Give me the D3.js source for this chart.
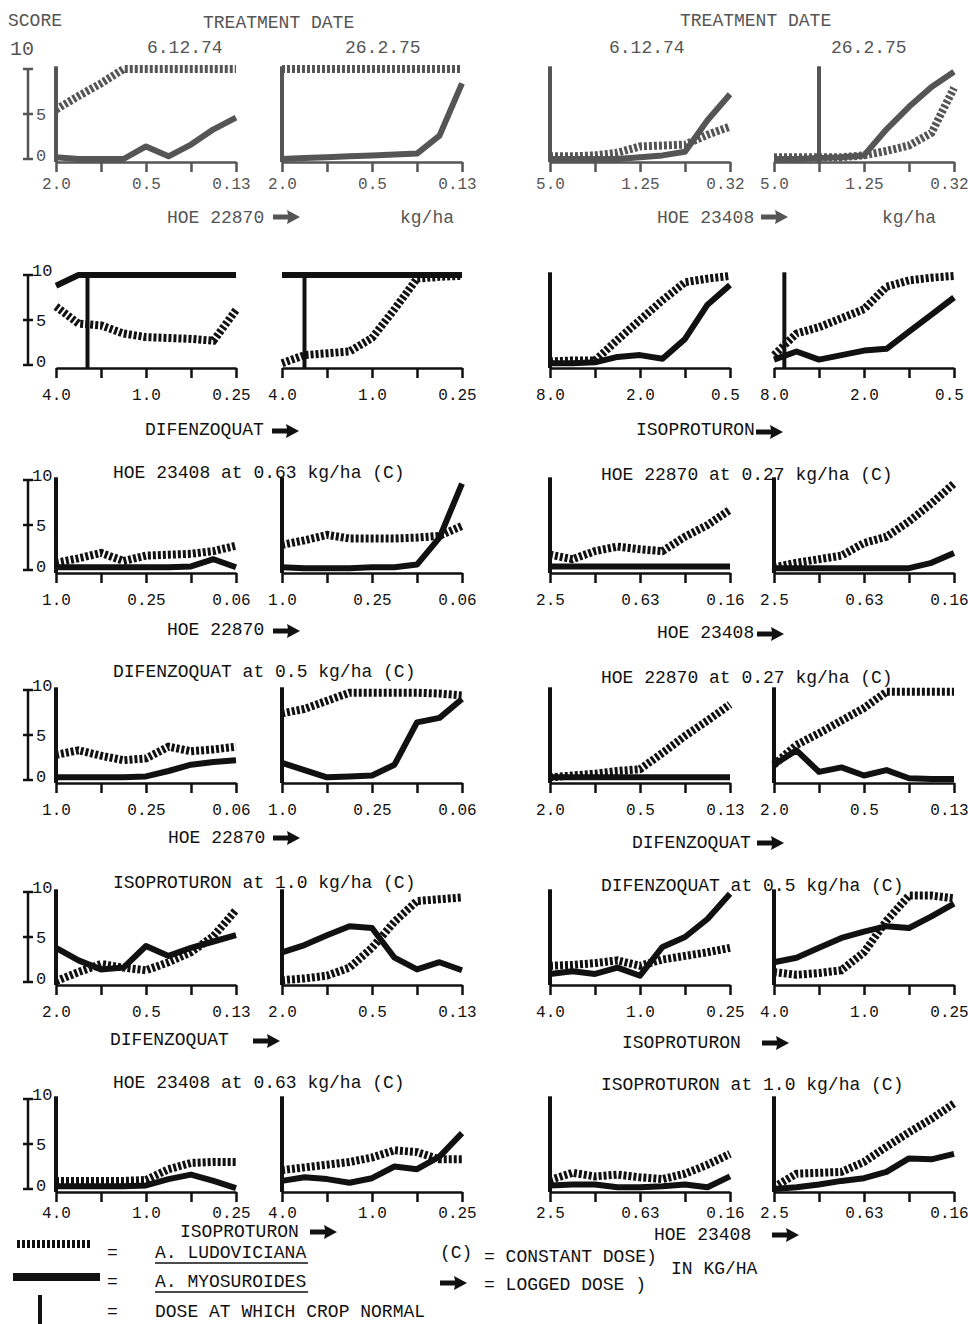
<!DOCTYPE html>
<html>
<head>
<meta charset="utf-8">
<script src="https://cdn.jsdelivr.net/npm/d3@7"></script>
<style>
body { margin: 0; background: #fff; }
text { font-family: "Liberation Mono", "DejaVu Sans Mono", monospace; }
.lud { fill: none; stroke-width: 8; stroke-dasharray: 3,2; }
.myo { fill: none; stroke-width: 6; stroke-linejoin: round; }
.axis path, .axis line { stroke-width: 2.5; }
</style>
</head>
<body>
<script>
// dose steps along every x axis (one whole step = half the dose)
var steps = [0, 0.5, 1, 1.5, 2, 2.5, 3, 3.5, 4];

// tick labels at steps 0, 2 and 4, per row and panel
var tickLabels = [
  [["2.0","0.5","0.13"], ["2.0","0.5","0.13"], ["5.0","1.25","0.32"], ["5.0","1.25","0.32"]],
  [["4.0","1.0","0.25"], ["4.0","1.0","0.25"], ["8.0","2.0","0.5"], ["8.0","2.0","0.5"]],
  [["1.0","0.25","0.06"], ["1.0","0.25","0.06"], ["2.5","0.63","0.16"], ["2.5","0.63","0.16"]],
  [["1.0","0.25","0.06"], ["1.0","0.25","0.06"], ["2.0","0.5","0.13"], ["2.0","0.5","0.13"]],
  [["2.0","0.5","0.13"], ["2.0","0.5","0.13"], ["4.0","1.0","0.25"], ["4.0","1.0","0.25"]],
  [["4.0","1.0","0.25"], ["4.0","1.0","0.25"], ["2.5","0.63","0.16"], ["2.5","0.63","0.16"]]
];

// score (0-10) of A. ludoviciana, per row and panel
var ludoviciana = [
  [[5.5,7,8.4,10,10,10,10,10,10], [10,10,10,10,10,10,10,10,10],
   [0.3,0.3,0.4,0.7,1.4,1.5,1.6,2.7,3.6], [0.2,0.2,0.2,0.2,0.4,0.9,1.5,2.9,7.9]],
  [[6.5,4.6,4.4,3.5,3.1,3.0,2.9,2.7,6.1], [0.2,1.1,1.3,1.5,3.0,6.2,9.6,9.8,9.9],
   [0.4,0.5,0.5,2.8,5.0,7.2,9.2,9.6,9.9], [1.1,3.5,4.2,5.2,6.2,8.7,9.4,9.7,9.9]],
  [[0.8,1.3,1.9,1.0,1.6,1.7,1.8,2.1,2.7], [2.8,3.3,3.9,3.5,3.5,3.5,3.6,3.8,4.9],
   [1.7,1.2,2.1,2.6,2.3,2.1,3.7,5.0,6.7], [0.3,0.8,1.2,1.6,3.0,3.7,5.4,7.4,9.6]],
  [[2.8,3.3,2.7,2.2,2.4,3.7,3.2,3.4,3.7], [7.4,7.9,8.8,9.7,9.7,9.7,9.7,9.6,9.4],
   [0.3,0.5,0.7,1.0,1.2,3.0,4.9,6.6,8.4], [1.7,3.9,5.2,6.6,8.0,9.8,9.8,9.8,9.8]],
  [[0.1,1.1,2.0,1.6,1.3,2.2,3.3,5.1,8.0], [0.2,0.4,0.7,1.6,3.8,6.7,9.0,9.2,9.4],
   [1.8,1.9,2.1,2.4,1.8,2.5,2.9,3.3,3.8], [1.1,0.8,1.0,1.3,3.3,6.8,9.6,9.6,9.3]],
  [[0.9,0.9,0.9,0.9,1.0,2.2,2.9,3.0,3.0], [2.1,2.4,2.7,3.0,3.5,4.3,4.1,3.3,3.3],
   [1.0,1.8,1.4,1.6,1.3,1.1,1.7,2.7,3.9], [0.2,1.7,1.8,1.9,3.0,4.7,6.3,7.8,9.5]]
];

// score (0-10) of A. myosuroides, per row and panel
var myosuroides = [
  [[0.2,0,0,0,1.4,0.3,1.6,3.3,4.6], [0,0.1,0.2,0.3,0.4,0.5,0.6,2.6,8.4],
   [0,0,0,0,0.2,0.4,0.8,4.3,7.2], [0,0,0.1,0.2,0.4,3.3,5.8,8.0,9.7]],
  [[8.8,10,10,10,10,10,10,10,10], [10,10,10,10,10,10,10,10,10],
   [0.2,0.2,0.3,0.9,1.1,0.7,2.9,6.7,8.9], [0.6,1.5,0.6,1.1,1.6,1.8,3.7,5.6,7.5]],
  [[0.3,0.3,0.3,0.3,0.3,0.3,0.4,1.2,0.3], [0.3,0.2,0.2,0.2,0.3,0.3,0.6,3.6,9.6],
   [0.4,0.4,0.4,0.4,0.4,0.4,0.4,0.4,0.4], [0.2,0.2,0.2,0.2,0.2,0.2,0.2,0.8,1.9]],
  [[0.3,0.3,0.3,0.3,0.4,1.0,1.7,2.0,2.2], [1.9,1.1,0.3,0.4,0.5,1.7,6.4,6.9,9.0],
   [0.3,0.3,0.3,0.3,0.3,0.3,0.3,0.3,0.3], [1.7,3.3,0.9,1.4,0.5,1.1,0.2,0.1,0.1]],
  [[3.8,2.4,1.4,1.6,4.0,2.9,3.8,4.5,5.2], [3.3,4.1,5.2,6.2,6.0,2.7,1.4,2.2,1.3],
   [0.9,1.2,0.9,1.6,0.7,3.9,5.0,7.0,9.8], [2.2,2.7,3.8,4.9,5.6,6.2,6.0,7.3,8.7]],
  [[0.3,0.3,0.3,0.3,0.4,1.1,1.6,0.9,0.1], [0.9,1.3,1.1,0.7,1.2,2.5,2.2,3.6,6.2],
   [0.4,0.5,0.5,0.2,0.2,0.3,0.5,0.2,1.4], [0.0,0.2,0.5,0.9,1.2,1.9,3.4,3.3,3.9]]
];

// dose step at which the crop was normal
var cropNormal = [
  [0, 0, 0, 1], [0.7, 0.5, 0, 0.23], [0, 0, 0, 0],
  [0, 0, 0, 0], [0, 0, 0, 0], [0, 0, 0, 0]
];

var titles = [
  [null, null],
  [null, null],
  ["HOE 23408 at 0.63 kg/ha (C)", "HOE 22870 at 0.27 kg/ha (C)"],
  ["DIFENZOQUAT at 0.5 kg/ha (C)", "HOE 22870 at 0.27 kg/ha (C)"],
  ["ISOPROTURON at 1.0 kg/ha (C)", "DIFENZOQUAT at 0.5 kg/ha (C)"],
  ["HOE 23408 at 0.63 kg/ha (C)", "ISOPROTURON at 1.0 kg/ha (C)"]
];
var doseNames = [
  ["HOE 22870", "HOE 23408"], ["DIFENZOQUAT", "ISOPROTURON"],
  ["HOE 22870", "HOE 23408"], ["HOE 22870", "DIFENZOQUAT"],
  ["DIFENZOQUAT", "ISOPROTURON"], ["ISOPROTURON", "HOE 23408"]
];

// layout
var W = 968, H = 1324;
var panelX = [56, 282, 550, 774], panelW = 180;
var axisY = [162, 368, 573, 783, 985, 1192];
var tickPad = [6, 11, 11, 11, 11, 5];
var titleY = [[0, 0], [0, 0], [478, 480], [677, 683], [888, 891], [1088, 1090]];
var nameXY = [ // text x, baseline, arrow x, arrow y for left and right halves
  [[167, 223, 273, 217], [657, 223, 761, 217]],
  [[145, 435, 272, 431], [636, 435, 756, 432]],
  [[167, 635, 273, 631], [657, 638, 757, 634]],
  [[168, 843, 273, 838], [632, 848, 757, 843]],
  [[110, 1045, 253, 1041], [622, 1048, 762, 1043]],
  [[180, 1237, 310, 1232], [654, 1240, 772, 1235]]
];

var svg = d3.select("body").append("svg")
    .attr("width", W).attr("height", H);

function arrow(g, x, y, col) {
  g.append("path")
    .attr("transform", "translate(" + x + "," + y + ")")
    .attr("d", "M0,-2.5 L15,-2.5 L14,-7 L27,0 L14,7 L15,2.5 L0,2.5 Z")
    .attr("fill", col);
}

function label(g, x, y, str, size, col) {
  return g.append("text").attr("x", x).attr("y", y)
    .attr("font-size", size).attr("fill", col).text(str);
}

axisY.forEach(function(ay, r) {
  var col = r === 0 ? "#555" : "#111";
  var g = svg.append("g");
  var y = d3.scaleLinear().domain([0, 10]).range([ay - 3, ay - 93]);

  for (var p = 0; p < 4; p++) {
    var x = d3.scaleLinear().domain([0, 4]).range([panelX[p], panelX[p] + panelW]);
    var labs = tickLabels[r][p];
    var ax = g.append("g").attr("class", "axis")
        .attr("transform", "translate(0," + ay + ")")
        .call(d3.axisBottom(x).tickValues([0, 1, 2, 3, 4]).tickSize(10)
          .tickSizeOuter(0).tickPadding(tickPad[r])
          .tickFormat(function(d) { return d % 2 === 0 ? labs[d / 2] : ""; }));
    ax.selectAll("path, line").attr("stroke", col);
    ax.selectAll("line").attr("stroke-width", 2);
    ax.selectAll("text").attr("font-size", 16).attr("fill", col)
      .attr("font-family", "Liberation Mono, DejaVu Sans Mono, monospace")
      .attr("dx", function(d) { return d === 4 ? -5 : 0; });

    var line = d3.line().x(function(d, i) { return x(steps[i]); }).y(function(d) { return y(d); });

    // dose at which crop normal
    g.append("line")
      .attr("x1", x(cropNormal[r][p])).attr("x2", x(cropNormal[r][p]))
      .attr("y1", ay).attr("y2", y(10.3))
      .attr("stroke", col).attr("stroke-width", 4);

    g.append("path").datum(myosuroides[r][p]).attr("class", "myo")
      .attr("stroke", col).attr("d", line);
    g.append("path").datum(ludoviciana[r][p]).attr("class", "lud")
      .attr("stroke", col).attr("d", line);
  }

  // score bracket on the left
  var bx = 28;
  g.append("line").attr("x1", bx).attr("x2", bx).attr("y1", y(0)).attr("y2", y(10))
    .attr("stroke", col).attr("stroke-width", 2.5);
  [0, 5, 10].forEach(function(v) {
    g.append("line").attr("x1", bx - 5).attr("x2", bx + 5)
      .attr("y1", y(v)).attr("y2", y(v)).attr("stroke", col).attr("stroke-width", 2.5);
  });
  label(g, 36, y(5) + 6, "5", 17, col);
  label(g, 36, y(0) + 2, "0", 17, col);
  if (r > 0) label(g, 32, y(10) + 1, "10", 17, col);

  // titles and dose names
  for (var h = 0; h < 2; h++) {
    if (titles[r][h]) label(g, h === 0 ? 113 : 601, titleY[r][h], titles[r][h], 18, col);
    var n = nameXY[r][h];
    label(g, n[0], n[1], doseNames[r][h], 18, col);
    arrow(g, n[2], n[3], col);
  }
});

// header
var gray = "#555";
label(svg, 8, 26, "SCORE", 18, gray);
label(svg, 10, 55, "10", 20, gray);
label(svg, 203, 28, "TREATMENT DATE", 18, gray);
label(svg, 680, 26, "TREATMENT DATE", 18, gray);
label(svg, 147, 53, "6.12.74", 18, gray);
label(svg, 345, 53, "26.2.75", 18, gray);
label(svg, 609, 53, "6.12.74", 18, gray);
label(svg, 831, 53, "26.2.75", 18, gray);
label(svg, 400, 223, "kg/ha", 18, gray);
label(svg, 882, 223, "kg/ha", 18, gray);

// legend
var lg = svg.append("g");
lg.append("line").attr("class", "lud").attr("stroke", "#111")
  .attr("x1", 17).attr("x2", 92).attr("y1", 1244).attr("y2", 1244);
lg.append("line").attr("stroke", "#111").attr("stroke-width", 8)
  .attr("x1", 13).attr("x2", 100).attr("y1", 1277).attr("y2", 1277);
lg.append("line").attr("stroke", "#111").attr("stroke-width", 4)
  .attr("x1", 40).attr("x2", 40).attr("y1", 1295).attr("y2", 1324);
label(lg, 107, 1258, "=", 18, "#111");
label(lg, 107, 1287, "=", 18, "#111");
label(lg, 107, 1317, "=", 18, "#111");
label(lg, 155, 1258, "A. LUDOVICIANA", 18, "#111");
label(lg, 155, 1287, "A. MYOSUROIDES", 18, "#111");
label(lg, 155, 1317, "DOSE AT WHICH CROP NORMAL", 18, "#111");
lg.append("line").attr("stroke", "#111").attr("stroke-width", 1.5)
  .attr("x1", 155).attr("x2", 308).attr("y1", 1263).attr("y2", 1263);
lg.append("line").attr("stroke", "#111").attr("stroke-width", 1.5)
  .attr("x1", 155).attr("x2", 308).attr("y1", 1292).attr("y2", 1292);
label(lg, 440, 1258, "(C)", 18, "#111");
arrow(lg, 440, 1283, "#111");
label(lg, 484, 1262, "= CONSTANT DOSE)", 18, "#111");
label(lg, 484, 1290, "= LOGGED DOSE  )", 18, "#111");
label(lg, 671, 1274, "IN KG/HA", 18, "#111");
</script>
</body>
</html>
